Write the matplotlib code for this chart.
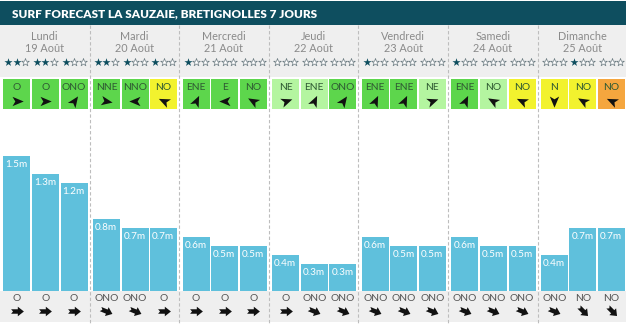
import matplotlib
matplotlib.use("Agg")
import matplotlib.pyplot as plt
from matplotlib.patches import Rectangle
from matplotlib.path import Path
from matplotlib.markers import MarkerStyle
from matplotlib.transforms import Affine2D

plt.rcParams['font.family'] = ['Lato', 'DejaVu Sans']

title = "SURF FORECAST LA SAUZAIE, BRETIGNOLLES 7 JOURS"
days = ["Lundi", "Mardi", "Mercredi", "Jeudi", "Vendredi", "Samedi", "Dimanche"]
dates = ["19 Août", "20 Août", "21 Août", "22 Août", "23 Août", "24 Août", "25 Août"]

stars = [2, 2, 1, 2, 1, 1, 1, 0, 0, 0, 0, 0, 1, 0, 0, 1, 0, 0, 0, 1, 0]
wave_height = [1.5, 1.3, 1.2, 0.8, 0.7, 0.7, 0.6, 0.5, 0.5, 0.4, 0.3, 0.3,
               0.6, 0.5, 0.5, 0.6, 0.5, 0.5, 0.4, 0.7, 0.7]
swell_dir = ["O", "O", "O", "ONO", "ONO", "O", "O", "O", "O", "O", "ONO", "ONO",
             "ONO", "ONO", "ONO", "ONO", "ONO", "ONO", "ONO", "NO", "NO"]
wind_dir = ["O", "O", "ONO", "NNE", "NNO", "NO", "ENE", "E", "NO", "NE", "ENE", "ONO",
            "ENE", "ENE", "NE", "ENE", "NO", "NO", "N", "NO", "NO"]
# wind rating: G = green, L = light green, Y = yellow, R = orange
wind_level = ["G", "G", "G", "G", "G", "Y", "G", "G", "G", "L", "L", "G",
              "G", "G", "L", "G", "L", "Y", "Y", "Y", "R"]
# arrow pointing angles as drawn in the wind boxes (degrees, counter-clockwise from east)
wind_arrow = [0, 0, 55, -10, 180, 155, 65, 180, 150, 20, 65, 55,
              65, 65, 20, 65, 150, 155, -90, 150, 155]
swell_arrow = {"O": 0, "ONO": -22.5, "NO": -45}

W, H = 626, 325
fig = plt.figure(figsize=(W / 100, H / 100), dpi=100)
bg = fig.add_axes([0, 0, 1, 1])
bg.set_xlim(0, W)
bg.set_ylim(H, 0)
bg.axis('off')

TEAL = '#0e4e5f'
GREY = '#efefef'
BAR = '#5fc0dc'
level_col = {"G": '#5dd64c', "L": '#b4f5a0', "Y": '#f2f22e', "R": '#f5a63e'}

DAYW = 89.6
def cx(k):
    d, i = divmod(k, 3)
    return d * DAYW + 16.8 + i * 28.6

# title bar
bg.add_patch(Rectangle((0, 1), W, 24, color=TEAL, lw=0))
bg.text(12, 13.5, title, color='white', fontsize=8.5, fontweight='heavy',
        va='center', ha='left')
# header grey
bg.add_patch(Rectangle((0, 25), W, 52, color=GREY, lw=0))
# bottom strip
bg.add_patch(Rectangle((0, 291), W, 31, color=GREY, lw=0))

for d in range(7):
    c = d * DAYW + DAYW / 2
    bg.text(c, 37, days[d], ha='center', va='center', fontsize=7.8, color='#8a8a8a')
    bg.text(c, 48.5, dates[d], ha='center', va='center', fontsize=7.8, color='#8a8a8a')

for k in range(21):
    x0 = cx(k)
    for s in range(3):
        xs = x0 - 8.5 + s * 8.5
        if s < stars[k]:
            bg.scatter([xs], [61.5], marker='*', s=38, color=TEAL, lw=0, zorder=3)
        else:
            bg.scatter([xs], [61.5], marker='*', s=34, facecolor='white',
                       edgecolor='#6a7a80', lw=0.5, zorder=3)

# wind boxes
dart = Path([(1, 0), (-0.8, 0.75), (-0.35, 0), (-0.8, -0.75), (1, 0)],
            [Path.MOVETO, Path.LINETO, Path.LINETO, Path.LINETO, Path.CLOSEPOLY])
for k in range(21):
    x0 = cx(k)
    bg.add_patch(Rectangle((x0 - 13.5, 79), 27, 29.5, color=level_col[wind_level[k]], lw=0))
    bg.text(x0, 88, wind_dir[k], ha='center', va='center', fontsize=7.4, color='#2f5a33')
    m = MarkerStyle(dart, transform=Affine2D().rotate_deg(wind_arrow[k]))
    bg.scatter([x0], [101], marker=m, s=80, color='#111111', lw=0, zorder=3)

# swell direction strip
fat = Path([(-1, -0.35), (0.05, -0.35), (0.05, -0.75), (1, 0), (0.05, 0.75),
            (0.05, 0.35), (-1, 0.35), (-0.7, 0), (-1, -0.35)],
           [Path.MOVETO] + [Path.LINETO] * 7 + [Path.CLOSEPOLY])
for k in range(21):
    x0 = cx(k)
    bg.text(x0, 298.5, swell_dir[k], ha='center', va='center', fontsize=7.4, color='#555555')
    m = MarkerStyle(fat, transform=Affine2D().rotate_deg(swell_arrow[swell_dir[k]]))
    bg.scatter([x0], [311], marker=m, s=85, color='#111111', lw=0, zorder=3)

# separators
for d in range(1, 7):
    bg.plot([d * DAYW, d * DAYW], [25, 325], ls=(0, (3, 2)), color='#bdbdbd', lw=0.8, zorder=4)

# bars
top_px, bot_px = 110, 291
ax = fig.add_axes([0, (H - bot_px) / H, 1, (bot_px - top_px) / H])
ax.set_xlim(0, W)
ax.set_ylim(0, (bot_px - top_px) / 90.0)
ax.axis('off')
xs = [cx(k) for k in range(21)]
ax.bar(xs, wave_height, width=27, color=BAR, lw=0)
for k in range(21):
    ax.annotate(f"{wave_height[k]}m", (xs[k] - 13.5, wave_height[k]), xytext=(1.5, -6),
                textcoords='offset points', ha='left', va='center', fontsize=7.2,
                color='white')

fig.savefig('out.png', dpi=100)
